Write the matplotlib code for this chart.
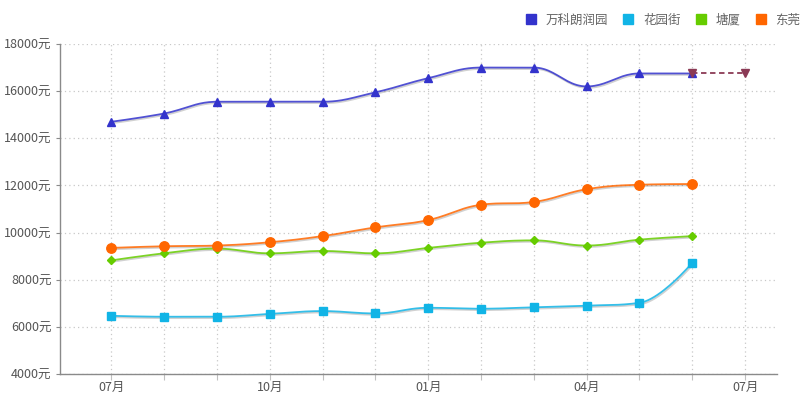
import numpy as np
import matplotlib
matplotlib.use("Agg")
import matplotlib.pyplot as plt
import matplotlib.patheffects as pe

plt.rcParams['font.family'] = ['Noto Sans CJK SC', 'DejaVu Sans']

months = ['07月', '08月', '09月', '10月', '11月', '12月', '01月',
          '02月', '03月', '04月', '05月', '06月', '07月']
names = ['万科朗润园', '花园街', '塘厦', '东莞']
vanke = [14700, 15050, 15550, 15550, 15550, 15950, 16550, 17000, 17000, 16200, 16750, 16750]
huayuan = [6470, 6430, 6430, 6550, 6670, 6570, 6810, 6770, 6830, 6900, 7020, 8720]
tangxia = [8820, 9120, 9320, 9120, 9220, 9120, 9350, 9570, 9670, 9450, 9700, 9850]
dongguan = [9350, 9420, 9450, 9590, 9850, 10220, 10530, 11180, 11300, 11840, 12030, 12060]
forecast = [16750, 16750]
forecast_idx = [11, 12]

colors = ['#3333cc', '#11b4e6', '#66cc00', '#ff6600']
markers = ['^', 's', 'D', 'o']
msizes = [6.2, 5.8, 4.0, 6.8]


def spline(xs, ys, smoothing=1.5, n=24):
    # highcharts-like spline, drawn as cubic bezier segments
    xs = np.asarray(xs, float)
    ys = np.asarray(ys, float)
    k = len(xs)
    lc = [(xs[i], ys[i]) for i in range(k)]
    rc = [(xs[i], ys[i]) for i in range(k)]
    d = smoothing + 1
    for i in range(1, k - 1):
        px, py = xs[i], ys[i]
        lx, ly = xs[i - 1], ys[i - 1]
        nx, ny = xs[i + 1], ys[i + 1]
        lcx = (smoothing * px + lx) / d
        lcy = (smoothing * py + ly) / d
        rcx = (smoothing * px + nx) / d
        rcy = (smoothing * py + ny) / d
        corr = 0
        if rcx != lcx:
            corr = (rcy - lcy) * (rcx - px) / (rcx - lcx) + py - rcy
        lcy += corr
        rcy += corr
        if lcy > ly and lcy > py:
            lcy = max(ly, py)
            rcy = 2 * py - lcy
        elif lcy < ly and lcy < py:
            lcy = min(ly, py)
            rcy = 2 * py - lcy
        if rcy > ny and rcy > py:
            rcy = max(ny, py)
            lcy = 2 * py - rcy
        elif rcy < ny and rcy < py:
            rcy = min(ny, py)
            lcy = 2 * py - rcy
        lc[i] = (lcx, lcy)
        rc[i] = (rcx, rcy)
    t = np.linspace(0, 1, n)
    outx, outy = [xs[0]], [ys[0]]
    for i in range(1, k):
        p0 = np.array([xs[i - 1], ys[i - 1]])
        c1 = np.array(rc[i - 1])
        c2 = np.array(lc[i])
        p3 = np.array([xs[i], ys[i]])
        pts = (((1 - t) ** 3)[:, None] * p0 + (3 * (1 - t) ** 2 * t)[:, None] * c1
               + (3 * (1 - t) * t ** 2)[:, None] * c2 + (t ** 3)[:, None] * p3)
        outx.extend(pts[1:, 0])
        outy.extend(pts[1:, 1])
    return outx, outy


fig = plt.figure(figsize=(8, 4.01), dpi=100)
ax = fig.add_axes([0.075, 0.0673, 0.896, 0.823])

shadow = [pe.SimpleLineShadow(offset=(0.7, -1.0), alpha=0.18, shadow_color='black'), pe.Normal()]

x = np.arange(len(vanke))
series = [vanke, huayuan, tangxia, dongguan]
for vals, c, m, ms, name in zip(series, colors, markers, msizes, names):
    sx, sy = spline(x, vals)
    ax.plot(sx, sy, color=c, lw=1.3, alpha=0.85, path_effects=shadow, zorder=3)
    ax.plot(x, vals, ls='none', marker=m, ms=ms, color=c, mec=c, zorder=4)
    # legend proxy
    ax.plot([], [], ls='none', marker='s', ms=7, color=c, label=name)

ax.plot(forecast_idx, forecast, color='#8b3a55', lw=1.3, ls=(0, (3, 2)), zorder=3)
ax.plot(forecast_idx, forecast, ls='none', marker='v', ms=6, color='#8b3a55', zorder=5)

ax.set_xlim(-0.97, 12.6)
ax.set_ylim(4000, 18000)
ax.set_yticks(range(4000, 18001, 2000))
ax.set_yticklabels([f'{v}元' for v in range(4000, 18001, 2000)])
ax.set_xticks(x.tolist() + [12])
ax.set_xticklabels([mth if i % 3 == 0 else '' for i, mth in enumerate(months)])

ax.grid(True, color='#c8c8c8', ls=(0, (1, 2.5)), lw=0.9)
ax.set_axisbelow(True)
for s in ['top', 'right']:
    ax.spines[s].set_visible(False)
for s in ['left', 'bottom']:
    ax.spines[s].set_color('#8a8a8a')
    ax.spines[s].set_linewidth(1)
ax.tick_params(axis='y', length=3, width=0.8, color='#8a8a8a', pad=3,
               labelsize=9, labelcolor='#555555')
ax.tick_params(axis='x', length=4, width=0.8, color='#c0c0c0', pad=1,
               labelsize=9, labelcolor='#555555')

fig.legend(loc='upper right', bbox_to_anchor=(1.01, 0.985), ncol=4, frameon=False,
           fontsize=9, labelcolor='#666666', handletextpad=0.7, columnspacing=1.1,
           handlelength=1.0, borderaxespad=0.2)

fig.savefig('out.png', dpi=100)
